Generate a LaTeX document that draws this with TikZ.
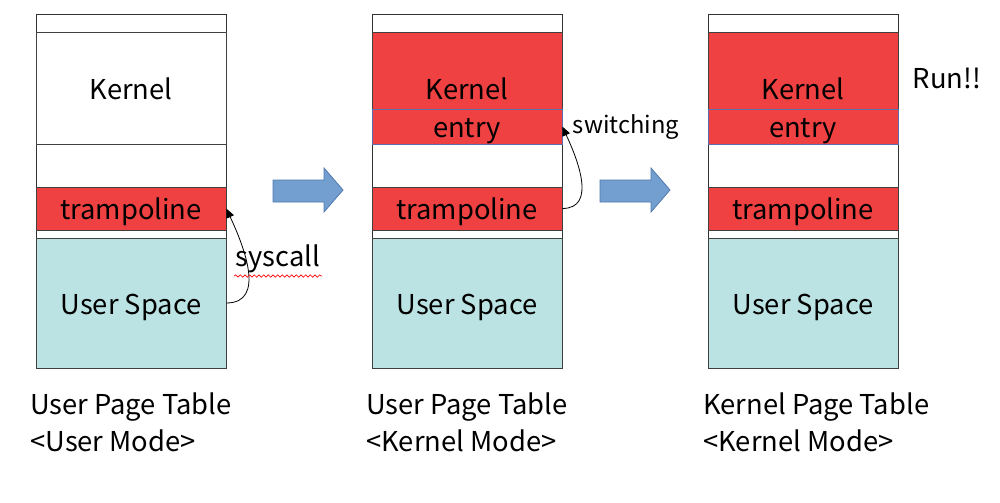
\documentclass[tikz,border=0pt]{standalone}
\usepackage{fontspec}
\setmainfont{Noto Sans CJK JP}
\usetikzlibrary{positioning,arrows.meta,decorations.pathmorphing}

\definecolor{segred}{RGB}{239,65,65}
\definecolor{usercyan}{RGB}{187,227,228}
\definecolor{flowblue}{RGB}{114,159,207}
\definecolor{flowedge}{RGB}{80,120,175}
\definecolor{entryedge}{RGB}{90,110,175}

\tikzset{
  bigfont/.style={font=\fontsize{20.5}{24}\selectfont},
  frame/.style={draw=black!80, minimum width=142.5pt, minimum height=265.5pt, inner sep=0pt},
  seg/.style={draw=black!75, minimum width=142.5pt, inner sep=0pt, bigfont,
    text height=16.5pt, text depth=0pt},
  kernelseg/.style={seg, minimum height=84pt},
  entryseg/.style={seg, draw=entryedge, fill=segred, minimum height=26.25pt},
  trampseg/.style={seg, fill=segred, minimum height=32.25pt},
  userseg/.style={seg, fill=usercyan, minimum height=97.5pt},
  caption/.style={bigfont, align=left, anchor=north west, inner sep=0pt},
  flowarrow/.style={fill=flowblue, draw=flowedge, line width=0.6pt},
  jump/.style={-{Triangle[length=7pt,width=6pt]}, line width=0.6pt}
}

\begin{document}
\begin{tikzpicture}[x=0.75pt,y=-0.75pt]
  \useasboundingbox (0,0) rectangle (1000,503);

  % Column 1: user page table, user mode
  \node[frame] (f1) at (131,191) {};
  \node[kernelseg] (k1) at (131,88) {Kernel};
  \node[trampseg] (t1) at (131,208.5) {trampoline};
  \node[userseg] (u1) at (131,303) {User Space};
  \node[caption] (c1) at (30,392) {User Page Table\\[4pt]<User Mode>};

  % syscall jump
  \draw[jump] (u1.east) to[out=0, in=-65, looseness=1.1] (t1.east);
  \node[bigfont, inner sep=1pt] (sc) at (278,259) {syscall};
  \draw[red, line width=0.5pt, decorate,
        decoration={snake, amplitude=0.9pt, segment length=3.5pt}]
    ([yshift=-1pt]sc.south west) -- ([yshift=-1pt]sc.south east);

  % first step
  \draw[flowarrow] (273,180) -- (324,180) -- (324,168) -- (343,190)
    -- (324,212) -- (324,202) -- (273,202) -- cycle;

  % Column 2: user page table, kernel mode
  \node[frame] (f2) at (467,191) {};
  \node[kernelseg, fill=segred] (k2) at (467,88) {Kernel};
  \node[entryseg] (e2) at (467,126.5) {entry};
  \node[trampseg] (t2) at (467,208.5) {trampoline};
  \node[userseg] (u2) at (467,303) {User Space};
  \node[caption] (c2) at (366,392) {User Page Table\\[4pt]<Kernel Mode>};

  % switching jump
  \draw[jump] (t2.east) to[out=0, in=-65, looseness=1.1] (e2.east);
  \node[font=\fontsize{17.8}{21}\selectfont, inner sep=1pt] (sw) at (626,127) {switching};

  % second step
  \draw[flowarrow] (600,180) -- (651,180) -- (651,168) -- (670,190)
    -- (651,212) -- (651,202) -- (600,202) -- cycle;

  % Column 3: kernel page table, kernel mode
  \node[frame] (f3) at (803,191) {};
  \node[kernelseg, fill=segred] (k3) at (803,88) {Kernel};
  \node[entryseg] (e3) at (803,126.5) {entry};
  \node[trampseg] (t3) at (803,208.5) {trampoline};
  \node[userseg] (u3) at (803,303) {User Space};
  \node[caption] (c3) at (703,392) {Kernel Page Table\\[4pt]<Kernel Mode>};

  \node[bigfont] (run) at (947,78) {Run!!};
\end{tikzpicture}
\end{document}
